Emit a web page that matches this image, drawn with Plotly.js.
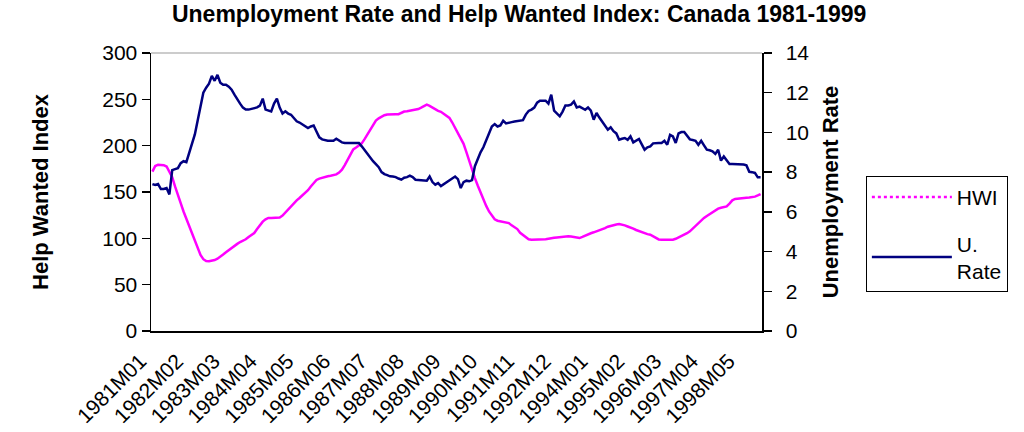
<!DOCTYPE html>
<html>
<head>
<meta charset="utf-8">
<script src="https://cdn.plot.ly/plotly-3.0.1.min.js"></script>
<style>
  html, body { margin: 0; padding: 0; background: #fff; }
  #chart { width: 1024px; height: 432px; }
</style>
</head>
<body>
<div id="chart"></div>
<script>
// months run 1981M01 .. 1998M12, one point per month
var years = [1981, 1982, 1983, 1984, 1985, 1986, 1987, 1988, 1989,
             1990, 1991, 1992, 1993, 1994, 1995, 1996, 1997, 1998];
var monthCodes = ['M01','M02','M03','M04','M05','M06','M07','M08','M09','M10','M11','M12'];

var tickLabels = ['1981M01','1982M02','1983M03','1984M04','1985M05','1986M06',
                  '1987M07','1988M08','1989M09','1990M10','1991M11','1992M12',
                  '1994M01','1995M02','1996M03','1997M04','1998M05'];

// Help Wanted Index (left axis), one row per year
var hwi = [
  172, 178, 179.5, 179.5, 179, 177.5, 172, 166, 156, 146, 138, 129,
  121.5, 114, 106, 98, 90, 82, 77.5, 75.5, 75.2, 75.8, 76.6, 78,
  80, 82.5, 85, 87.5, 90, 92, 94, 96, 97.5, 99, 101.5, 104,
  105.7, 110, 114.5, 118, 120.5, 122, 122, 122.2, 122.4, 122.5, 124.5, 128,
  131, 134.5, 138, 141, 143.5, 146, 149, 152, 156, 160, 163, 164.5,
  165.5, 166.3, 167, 167.5, 168.2, 169, 171, 174, 179, 185, 190, 196,
  198, 200.5, 202.5, 207, 212, 217, 223, 227, 229.5, 231.6, 232.8, 233.7,
  234, 234, 234, 234, 235.5, 236.8, 237.2, 237.6, 238, 238.6, 239.5, 241,
  243, 244.2, 243, 241, 238.8, 237.5, 236.5, 234, 232.5, 230, 225, 219,
  214, 208.5, 202, 193, 183, 174, 165, 157, 149, 142, 135, 129,
  124, 120.5, 119, 118.5, 118, 117.6, 116.5, 114, 112, 110, 106, 103.5,
  101, 99, 98.5, 98.5, 98.5, 98.5, 98.5, 99, 99.5, 100.3, 100.6, 101,
  101.5, 102, 102.2, 102.2, 102, 101.5, 101, 100.3, 101.5, 103, 104.6, 105.5,
  106.5, 107.5, 108.2, 109.5, 111, 112.5, 113.5, 114.5, 115, 115.4, 115, 114,
  112.8, 111.9, 110.5, 109, 107.8, 106.5, 105.5, 104.5, 103.9, 102, 100.5, 98.8,
  98.5, 98.5, 98.5, 98.5, 98.5, 99.5, 100.8, 102.2, 104, 105.5, 107.5, 110.5,
  113.5, 116.5, 119.5, 122, 124.2, 126.2, 128, 130, 132, 133, 133.8, 134.5,
  137.5, 141, 142.5, 143, 143.4, 143.5, 143.7, 144, 144.2, 145, 146.3, 147.8
];

// Unemployment rate, % (right axis)
var uRate = [
  7.40, 7.35, 7.40, 7.15, 7.15, 7.20, 6.88, 8.10, 8.15, 8.20, 8.45, 8.55,
  8.50, 8.95, 9.40, 9.90, 10.60, 11.40, 12.00, 12.25, 12.45, 12.85, 12.60, 12.90,
  12.50, 12.40, 12.40, 12.30, 12.15, 11.90, 11.65, 11.45, 11.25, 11.15, 11.15, 11.20,
  11.22, 11.26, 11.35, 11.70, 11.15, 11.10, 11.06, 11.45, 11.70, 11.25, 10.95, 11.06,
  10.95, 10.89, 10.75, 10.56, 10.50, 10.42, 10.30, 10.22, 10.30, 10.35, 10.05, 9.75,
  9.65, 9.60, 9.58, 9.58, 9.58, 9.68, 9.60, 9.50, 9.47, 9.47, 9.47, 9.47,
  9.47, 9.47, 9.30, 9.10, 8.95, 8.75, 8.55, 8.40, 8.25, 8.00, 7.90, 7.85,
  7.79, 7.78, 7.75, 7.68, 7.62, 7.72, 7.75, 7.82, 7.75, 7.62, 7.60, 7.58,
  7.57, 7.57, 7.78, 7.50, 7.37, 7.45, 7.30, 7.40, 7.52, 7.58, 7.70, 7.78,
  7.65, 7.20, 7.50, 7.57, 7.54, 7.60, 8.30, 8.70, 9.00, 9.25, 9.60, 10.00,
  10.30, 10.42, 10.30, 10.35, 10.59, 10.45, 10.50, 10.52, 10.55, 10.58, 10.59, 10.62,
  10.90, 11.08, 11.15, 11.25, 11.50, 11.60, 11.60, 11.60, 11.45, 11.90, 11.10, 10.95,
  10.81, 11.05, 11.36, 11.36, 11.40, 11.56, 11.26, 11.30, 11.20, 11.14, 11.26, 11.10,
  10.64, 10.98, 10.75, 10.56, 10.35, 10.14, 10.26, 10.06, 9.95, 9.63, 9.68, 9.72,
  9.63, 9.80, 9.50, 9.58, 9.67, 9.40, 9.13, 9.25, 9.30, 9.45, 9.47, 9.47,
  9.47, 9.58, 9.38, 9.88, 9.80, 9.47, 9.95, 10.02, 10.02, 9.85, 9.65, 9.62,
  9.58, 9.38, 9.58, 9.35, 9.13, 9.10, 9.05, 8.92, 9.13, 8.58, 8.79, 8.60,
  8.41, 8.41, 8.41, 8.41, 8.41, 8.38, 8.34, 8.02, 8.00, 7.96, 7.74, 7.74
];

var months = [];
years.forEach(function (y) {
  monthCodes.forEach(function (m) { months.push(y + m); });
});

var font = 'Liberation Sans, Arial, sans-serif';

var data = [
  {
    x: months, y: hwi, name: 'HWI', type: 'scatter', mode: 'lines',
    line: { color: '#FF00FF', width: 2.5 },
    showlegend: false, hoverinfo: 'x+y'
  },
  {
    // legend sample only: HWI drawn dotted in the key
    x: [null], y: [null], name: 'HWI', type: 'scatter', mode: 'lines',
    line: { color: '#FF00FF', width: 2.5, dash: 'dot' },
    legendgroup: 'a'
  },
  {
    x: months, y: uRate, name: 'U.<br>Rate', type: 'scatter', mode: 'lines',
    yaxis: 'y2', line: { color: '#000080', width: 2.5 },
    legendgroup: 'b'
  }
];

var layout = {
  width: 1024, height: 432,
  margin: { l: 151, r: 262, t: 53, b: 101 },
  paper_bgcolor: '#fff', plot_bgcolor: '#fff',
  font: { family: font, size: 21, color: '#000' },
  title: {
    text: '<b>Unemployment Rate and Help Wanted Index: Canada 1981-1999</b>',
    font: { family: font, size: 23, color: '#000' },
    x: 0.507, y: 0.968, yanchor: 'middle'
  },
  xaxis: {
    type: 'category', categoryorder: 'array', categoryarray: months,
    range: [-0.5, months.length - 0.5],
    tickmode: 'array', tickvals: tickLabels, ticktext: tickLabels,
    tickangle: -45, ticks: '', ticklabelstandoff: 8, ticklabelshift: -12,
    tickfont: { family: font, size: 21 },
    showline: true, linecolor: '#000', linewidth: 1.5,
    showgrid: false, zeroline: false
  },
  yaxis: {
    range: [0, 300], dtick: 50, tick0: 0,
    ticks: 'outside', ticklen: 8, tickcolor: '#000', tickwidth: 1.5,
    showline: true, linecolor: '#000', linewidth: 1.5,
    showgrid: false, zeroline: false,
    tickfont: { family: font, size: 21 },
    title: { text: '<b>Help Wanted Index</b>', font: { family: font, size: 22 }, standoff: 47 }
  },
  yaxis2: {
    overlaying: 'y', side: 'right',
    range: [0, 14], dtick: 2, tick0: 0,
    ticks: 'outside', ticklen: 8, tickcolor: '#000', tickwidth: 1.5,
    ticklabelstandoff: 10,
    showline: true, linecolor: '#000', linewidth: 1.5,
    showgrid: false, zeroline: false,
    tickfont: { family: font, size: 21 },
    title: { text: '<b>Unemployment Rate</b>', font: { family: font, size: 22 }, standoff: 14 }
  },
  legend: {
    x: 1.17, y: 0.558, xanchor: 'left', yanchor: 'top',
    bordercolor: '#000', borderwidth: 1, bgcolor: '#fff',
    font: { family: font, size: 21 },
    traceorder: 'grouped', tracegroupgap: 16, itemwidth: 80
  },
  shapes: [
    { type: 'line', xref: 'paper', yref: 'paper', x0: 0, x1: 1, y0: 1, y1: 1,
      line: { color: '#bbbbbb', width: 1.5 } }
  ],
  showlegend: true
};

Plotly.newPlot('chart', data, layout, { displayModeBar: false, staticPlot: true });
</script>
</body>
</html>
